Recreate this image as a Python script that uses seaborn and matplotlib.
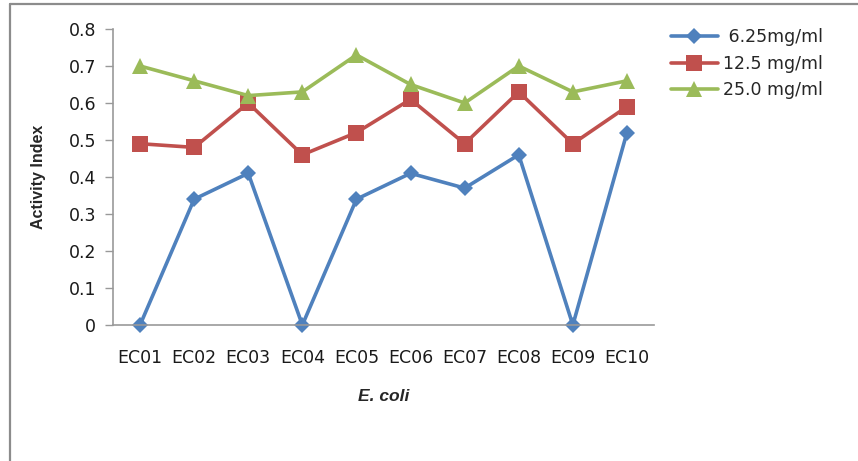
import matplotlib
matplotlib.use("Agg")
import matplotlib.pyplot as plt
from matplotlib.lines import Line2D
import seaborn as sns
import pandas as pd

# Isolates and activity index per concentration
isolates = ["EC01", "EC02", "EC03", "EC04", "EC05", "EC06", "EC07", "EC08", "EC09", "EC10"]
conc_625 = [0.00, 0.34, 0.41, 0.00, 0.34, 0.41, 0.37, 0.46, 0.00, 0.52]
conc_125 = [0.49, 0.48, 0.60, 0.46, 0.52, 0.61, 0.49, 0.63, 0.49, 0.59]
conc_250 = [0.70, 0.66, 0.62, 0.63, 0.73, 0.65, 0.60, 0.70, 0.63, 0.66]
series_names = [" 6.25mg/ml", "12.5 mg/ml", "25.0 mg/ml"]
y_ticks = [0, 0.1, 0.2, 0.3, 0.4, 0.5, 0.6, 0.7, 0.8]

rows = []
for name, vals in zip(series_names, [conc_625, conc_125, conc_250]):
    for iso, v in zip(isolates, vals):
        rows.append({"isolate": iso, "value": v, "series": name})
df = pd.DataFrame(rows)

sns.set_style("white")
plt.rcParams["font.family"] = ["DejaVu Sans"]

fig = plt.figure(figsize=(8.58, 4.61), dpi=100)
ax = fig.add_axes([113 / 858, 1 - 325 / 461, (654 - 113) / 858, (325 - 29) / 461])

palette = {series_names[0]: "#4F81BD", series_names[1]: "#C0504D", series_names[2]: "#9BBB59"}
markers = {series_names[0]: "D", series_names[1]: "s", series_names[2]: "^"}

sns.lineplot(data=df, x="isolate", y="value", hue="series", style="series",
             palette=palette, markers=markers, dashes=False, sort=False,
             linewidth=2.6, markersize=10, markeredgewidth=0, ax=ax)

# Marker sizes per shape; let markers on the axis line draw in full
for line in ax.get_lines():
    line.set_clip_on(False)
    if line.get_marker() in ("s", "^"):
        line.set_markersize(11)
    elif line.get_marker() == "D":
        line.set_markersize(8)

ax.set_xlim(-0.5, len(isolates) - 0.5)
ax.set_ylim(0, 0.8)
ax.set_yticks(y_ticks)
ax.set_yticklabels([f"{t:g}" for t in y_ticks])
ax.set_xticks(range(len(isolates)))
ax.set_xticklabels(isolates)
ax.set_xticks([i - 0.5 for i in range(len(isolates) + 1)], minor=True)
ax.tick_params(axis="x", which="major", length=0, pad=17, labelsize=12.5, labelcolor="#1a1a1a")
ax.tick_params(axis="x", which="minor", length=6, width=1, color="#999999", direction="out")
ax.tick_params(axis="y", which="major", length=6, width=1, color="#999999", direction="out",
               left=True, pad=6, labelsize=12.5, labelcolor="#1a1a1a")

for side in ("top", "right"):
    ax.spines[side].set_visible(False)
for side in ("left", "bottom"):
    ax.spines[side].set_color("#999999")
    ax.spines[side].set_linewidth(1.2)

ax.set_xlabel("E. coli", fontsize=12.5, fontweight="bold", style="italic",
              family=["Liberation Sans"], labelpad=16)
ax.set_ylabel("Activity Index", fontsize=11.5, fontweight="bold",
              family=["Liberation Sans"], labelpad=16)

handles, labels = ax.get_legend_handles_labels()
for h in handles:
    h.set_clip_on(True)
leg = ax.legend(handles, labels, loc="upper left", bbox_to_anchor=(1.018, 1.027),
                frameon=False, fontsize=12.5, handlelength=2.7, handletextpad=0.3,
                labelspacing=0.5, borderaxespad=0)

# Outer frame lines along the top and left edges
fig.add_artist(Line2D([10 / 858, 10 / 858], [0, 1 - 4 / 461], transform=fig.transFigure,
                      color="#8c8c8c", linewidth=1.6))
fig.add_artist(Line2D([10 / 858, 1], [1 - 4 / 461, 1 - 4 / 461], transform=fig.transFigure,
                      color="#8c8c8c", linewidth=1.6))

fig.savefig("out.png", dpi=100)
